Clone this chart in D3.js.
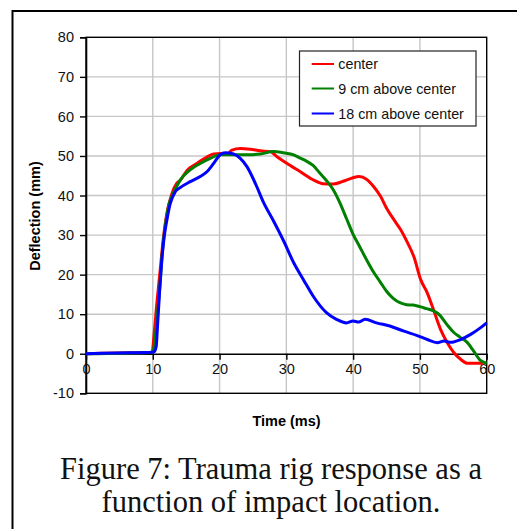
<!DOCTYPE html>
<html>
<head>
<meta charset="utf-8">
<script src="https://cdn.jsdelivr.net/npm/d3@7"></script>
<style>
  body { margin: 0; background: #fff; }
  svg { display: block; }
</style>
</head>
<body>
<svg id="chart" width="517" height="529"></svg>
<script>
// values
let seriesNames = ["center", "9 cm above center", "18 cm above center"]
let seriesColors = ["#ff0000", "#008000", "#0000ff"]

let centerT = [0, 5, 9.9, 10.2, 10.6, 11.1, 11.6, 12.1, 12.85, 13.6, 14.1, 15.1, 16.6, 18.1, 19.1, 20.1, 21.1, 21.85, 23.1, 24.6, 26.1, 27.6, 28.6, 30.1, 32.1, 34.1, 35.5, 37, 38.5, 39.8, 40.9, 42, 43, 44.1, 45.1, 46.1, 47.1, 48.1, 49.1, 50.1, 51.1, 52.1, 53.1, 54.1, 55.1, 56.1, 57.1, 58.6, 59.5]
let centerV = [0, 0.2, 0.4, 5, 12.6, 21, 29.5, 35.4, 40.4, 43.1, 43.8, 46.3, 48.1, 49.7, 50.5, 50.6, 50.4, 51.5, 51.9, 51.7, 51.3, 51.1, 49.8, 48.1, 46, 43.9, 43, 42.9, 43.6, 44.4, 44.8, 44.1, 42.4, 39.8, 36.5, 33.9, 31.4, 28.2, 24.5, 18.8, 15.4, 10.8, 6.1, 2.8, 0.25, -1.4, -2.4, -2.4, -2.4]

let nineT = [0, 5, 9.9, 10.3, 10.7, 11.1, 11.35, 12.35, 13.1, 14.1, 15.6, 17.1, 18.6, 20.1, 22.1, 24.1, 26.1, 28.1, 29.6, 31.1, 32, 33, 34, 35, 36, 37, 38, 39, 40, 41, 42, 43, 44, 45, 46, 47, 48, 49, 50, 51, 52, 53, 54, 55, 56, 57, 58, 59, 60]
let nineV = [0, 0.1, 0.3, 3, 10, 18, 24, 37.2, 40.6, 43.9, 46.5, 48.1, 49.4, 50.3, 50.3, 50.3, 50.5, 51.1, 50.8, 50.3, 49.5, 48.7, 47.6, 45.7, 43.8, 41.5, 38.2, 34.2, 30.2, 27, 23.8, 20.8, 18.3, 15.8, 14, 12.9, 12.4, 12.3, 11.9, 11.4, 10.9, 9.7, 7.5, 5.5, 4.2, 3, 0.8, -1.6, -2.4]

let eighteenT = [0, 5, 9.9, 10.2, 10.5, 10.7, 11, 11.35, 11.7, 12.1, 12.6, 13.35, 14.1, 15.6, 17.1, 18.1, 19.1, 20.1, 20.85, 22.1, 23.1, 24.1, 25.35, 26.6, 28.1, 29.6, 31.1, 32.6, 34, 36, 37.5, 39, 40, 40.8, 41.8, 43.5, 45.5, 47.6, 49.6, 51.1, 52.6, 53.6, 54.6, 56.1, 57.6, 59.1, 60]
let eighteenV = [0, 0.2, 0.4, 0.5, 1.7, 6.7, 15.2, 23.6, 29.5, 33.7, 37.9, 40.9, 42, 43.5, 44.8, 46, 48.1, 50.3, 50.8, 50.5, 49.4, 47.3, 43.1, 38.2, 33.5, 28.5, 23, 18.6, 14.6, 10.4, 8.7, 7.8, 8.3, 8, 8.7, 7.8, 7, 5.7, 4.6, 3.6, 2.8, 3.2, 2.9, 3.6, 4.9, 6.6, 7.8]

let xTicks = [0, 10, 20, 30, 40, 50, 60]
let yTicks = [-10, 0, 10, 20, 30, 40, 50, 60, 70, 80]

let plotLeft = 86, plotRight = 486.7, plotTop = 37.3, plotBottom = 393.3
let SANS = "Arial, 'Liberation Sans', sans-serif"

let svg = d3.select("#chart")
let x = d3.scaleLinear([0, 60], [plotLeft, plotRight])
let y = d3.scaleLinear([-10, 80], [plotBottom, plotTop])

// outer figure frame (only top and left visible)
svg.append("path")
    .attr("d", "M12.5,540 V11 H530")
    .attr("fill", "none")
    .attr("stroke", "black")
    .attr("stroke-width", 2)

// grid
let grid = svg.append("g").attr("class", "grid")
grid.selectAll("line.v")
    .data(xTicks.slice(1, -1))
    .join("line")
    .attr("class", "v")
    .attr("x1", d => x(d)).attr("x2", d => x(d))
    .attr("y1", plotTop).attr("y2", plotBottom)
grid.selectAll("line.h")
    .data(yTicks.filter(d => d != 0 && d != -10 && d != 80))
    .join("line")
    .attr("class", "h")
    .attr("x1", plotLeft).attr("x2", plotRight)
    .attr("y1", d => y(d)).attr("y2", d => y(d))
grid.selectAll("line")
    .attr("stroke", "#c6c6c6")
    .attr("stroke-width", 1.4)

// plot border
svg.append("rect")
    .attr("x", plotLeft).attr("y", plotTop)
    .attr("width", plotRight - plotLeft)
    .attr("height", plotBottom - plotTop)
    .attr("fill", "none")
    .attr("stroke", "black")
    .attr("stroke-width", 1.4)

// y axis on the left edge
let yAxis = svg.append("g")
    .attr("transform", `translate(${plotLeft},0)`)
    .call(d3.axisLeft(y).tickValues(yTicks).tickFormat(d => String(d)).tickSize(6).tickPadding(6))
yAxis.select(".domain").attr("stroke-width", 1.6)
yAxis.selectAll("line").attr("stroke-width", 1.4)
yAxis.selectAll("text")
    .attr("font-family", SANS)
    .attr("font-size", 14.5)
    .attr("fill", "#111")

// x axis along the zero line
let xAxis = svg.append("g")
    .attr("transform", `translate(0,${y(0)})`)
    .call(d3.axisBottom(x).tickValues(xTicks).tickFormat(d => String(d)).tickSize(6).tickPadding(4).tickSizeOuter(0))
xAxis.select(".domain").attr("stroke-width", 1.4)
xAxis.selectAll("line").attr("stroke-width", 1.4)
xAxis.selectAll("text")
    .attr("font-family", SANS)
    .attr("font-size", 14.5)
    .attr("fill", "#111")

// series
let series = [
    {t: centerT, v: centerV},
    {t: nineT, v: nineV},
    {t: eighteenT, v: eighteenV},
]
let line = d3.line()
    .x(d => x(d[0]))
    .y(d => y(d[1]))
    .curve(d3.curveMonotoneX)
svg.append("g")
    .selectAll("path")
    .data(series)
    .join("path")
    .attr("d", s => line(s.t.map((t, i) => [t, s.v[i]])))
    .attr("fill", "none")
    .attr("stroke", (s, i) => seriesColors[i])
    .attr("stroke-width", 3)
    .attr("stroke-linejoin", "round")

// legend
let legend = svg.append("g")
legend.append("rect")
    .attr("x", 299.5).attr("y", 51)
    .attr("width", 176.5).attr("height", 75)
    .attr("fill", "white")
    .attr("stroke", "#222")
    .attr("stroke-width", 1.2)
let rowsY = [64, 88.5, 113.5]
let items = legend.selectAll("g")
    .data(seriesNames)
    .join("g")
    .attr("transform", (d, i) => `translate(0,${rowsY[i]})`)
items.append("line")
    .attr("x1", 311.7).attr("x2", 334)
    .attr("stroke", (d, i) => seriesColors[i])
    .attr("stroke-width", 2)
items.append("text")
    .attr("x", 338.3)
    .attr("dy", "0.35em")
    .attr("font-family", SANS)
    .attr("font-size", 14.3)
    .attr("fill", "#111")
    .text(d => d)

// axis titles
svg.append("text")
    .attr("x", 286.5).attr("y", 426)
    .attr("text-anchor", "middle")
    .attr("font-family", SANS)
    .attr("font-size", 14.5)
    .attr("font-weight", "bold")
    .text("Time (ms)")
svg.append("text")
    .attr("transform", "translate(40,216) rotate(-90)")
    .attr("text-anchor", "middle")
    .attr("font-family", SANS)
    .attr("font-size", 14.5)
    .attr("font-weight", "bold")
    .text("Deflection (mm)")

// caption
let caption = ["Figure 7: Trauma rig response as a", "function of impact location."]
svg.selectAll("text.caption")
    .data(caption)
    .join("text")
    .attr("class", "caption")
    .attr("x", 271)
    .attr("y", (d, i) => 479 + i * 33)
    .attr("text-anchor", "middle")
    .attr("font-family", "'Times New Roman', 'Liberation Serif', serif")
    .attr("font-size", 30.5)
    .attr("fill", "#111")
    .text(d => d)
</script>
</body>
</html>
